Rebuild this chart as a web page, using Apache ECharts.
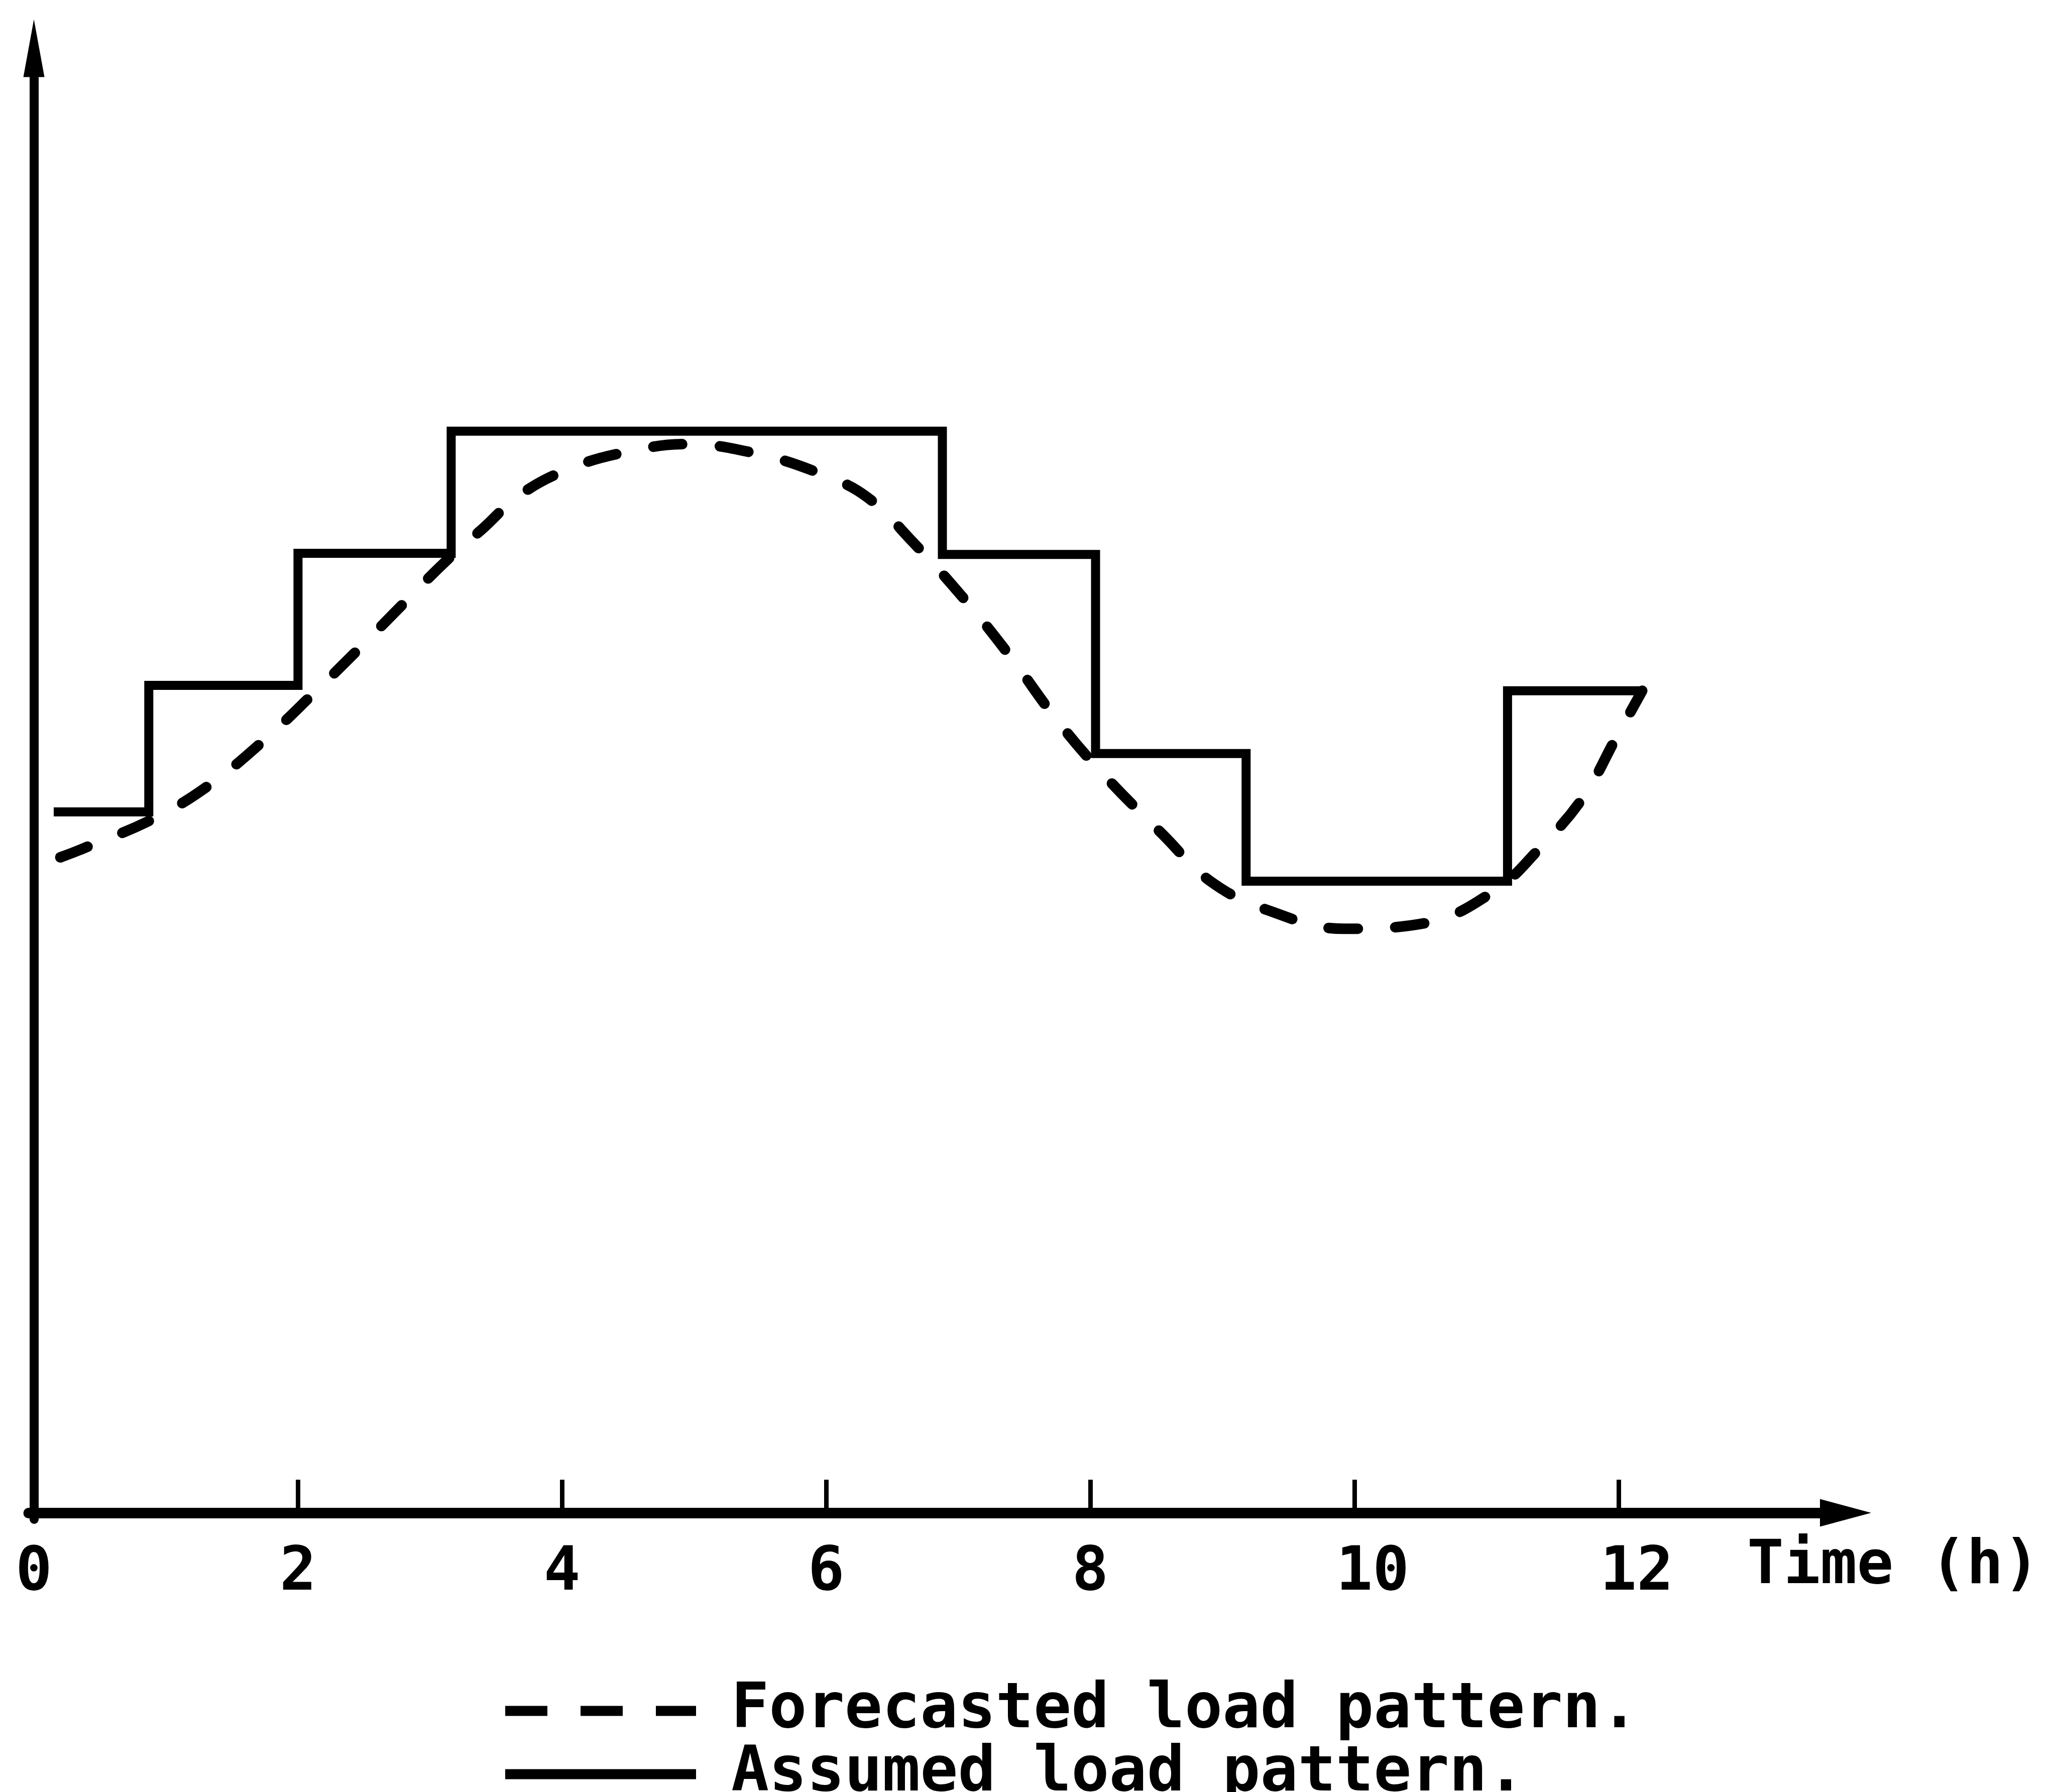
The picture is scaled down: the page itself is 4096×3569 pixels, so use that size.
<!DOCTYPE html>
<html>
<head>
<meta charset="utf-8">
<script src="https://cdn.jsdelivr.net/npm/echarts@6/dist/echarts.min.js"></script>
<style>
html, body { margin: 0; padding: 0; background: #ffffff; }
#chart { width: 4096px; height: 3569px; }
</style>
</head>
<body>
<div id="chart"></div>
<script>
// ---- data ----
const xTickValues = [0, 2, 4, 6, 8, 10, 12];
const xAxisName = 'Time (h)';
const seriesNames = ['Forecasted load pattern.', 'Assumed load pattern.'];

// Assumed (step) load pattern: level starts at each time, last point closes the final step
const stepTimes = [0.15, 0.87, 2.00, 3.16, 6.88, 8.04, 9.18, 11.16, 12.18];
const assumedLoad = [64.8, 76.5, 88.7, 100.0, 88.6, 70.2, 58.4, 76.0, 76.0];

// Forecasted (smooth, dashed) load pattern
const forecastTimes = [0.20, 0.35, 0.91, 1.33, 1.75, 2.13, 2.43, 2.81, 3.13, 3.40, 3.68, 4.05, 4.46, 4.95, 5.48, 5.95, 6.31, 6.66, 7.03, 7.38, 7.76, 8.12, 8.55, 8.92, 9.37, 9.92, 10.53, 11.06, 11.40, 11.73, 11.98, 12.18];
const forecastLoad = [60.6, 61.3, 64.2, 67.3, 71.5, 75.9, 79.5, 84.2, 88.1, 91.0, 94.1, 96.5, 98.0, 98.8, 97.9, 96.1, 93.9, 89.7, 84.7, 79.4, 73.1, 68.0, 62.7, 58.3, 55.6, 54.0, 54.5, 57.5, 61.4, 66.1, 71.6, 76.0];

const FONT = '"DejaVu Sans Mono", "Liberation Mono", monospace';

const chart = echarts.init(document.getElementById('chart'), null, { renderer: 'canvas' });

function legendBlock(name, top, lineStyle) {
  return {
    orient: 'vertical',
    left: 996,
    top: top,
    height: 200,
    padding: 0,
    itemGap: 0,
    itemWidth: 380,
    itemHeight: 2,
    selectedMode: false,
    itemStyle: { opacity: 0 },
    textStyle: {
      fontFamily: FONT, fontSize: 125, fontWeight: 'bold', color: '#000',
      padding: [0, 0, 0, 65]
    },
    data: [{ name: name, lineStyle: lineStyle }]
  };
}

const option = {
  backgroundColor: '#ffffff',
  animation: false,
  grid: { left: 57, right: 421, top: 96, bottom: 543, containLabel: false },
  xAxis: {
    type: 'value',
    min: -0.04,
    max: 13.72,
    name: xAxisName,
    nameLocation: 'end',
    nameGap: -196,
    nameTextStyle: {
      fontFamily: FONT, fontSize: 121, fontWeight: 'bold', color: '#000',
      align: 'left', verticalAlign: 'top', padding: [48, 0, 0, 0]
    },
    axisLine: {
      show: true, onZero: true,
      symbol: ['none', 'triangle'], symbolSize: [55, 102],
      lineStyle: { color: '#000', width: 21 }
    },
    axisTick: {
      show: true, inside: true, length: 66,
      customValues: xTickValues,
      lineStyle: { color: '#000', width: 9 }
    },
    axisLabel: {
      show: true, margin: 48,
      customValues: xTickValues,
      fontFamily: FONT, fontSize: 121, fontWeight: 'bold', color: '#000',
      formatter: function (v) { return v >= 10 ? ' ' + v : String(v); }
    },
    splitLine: { show: false }
  },
  yAxis: {
    type: 'value',
    min: -0.6,
    max: 135.4,
    axisLine: {
      show: true, onZero: true,
      symbol: ['none', 'triangle'], symbolSize: [42, 115],
      lineStyle: { color: '#000', width: 18 }
    },
    axisTick: { show: false },
    axisLabel: { show: false },
    splitLine: { show: false }
  },
  legend: [
    legendBlock(seriesNames[0], 3345, { color: '#000', width: 20, type: [84, 66], cap: 'butt' }),
    legendBlock(seriesNames[1], 3471, { color: '#000', width: 20, type: 'solid', cap: 'butt' })
  ],
  series: [
    {
      name: seriesNames[0],
      type: 'line',
      smooth: 0.4,
      symbol: 'none',
      data: forecastTimes.map((t, i) => [t, forecastLoad[i]]),
      lineStyle: { color: '#000', width: 21, type: [58, 75], cap: 'round' },
      itemStyle: { color: '#000' },
      z: 3
    },
    {
      name: seriesNames[1],
      type: 'line',
      step: 'end',
      symbol: 'none',
      data: stepTimes.map((t, i) => [t, assumedLoad[i]]),
      lineStyle: { color: '#000', width: 18, join: 'miter' },
      itemStyle: { color: '#000' },
      z: 2
    }
  ]
};

chart.setOption(option);
</script>
</body>
</html>
